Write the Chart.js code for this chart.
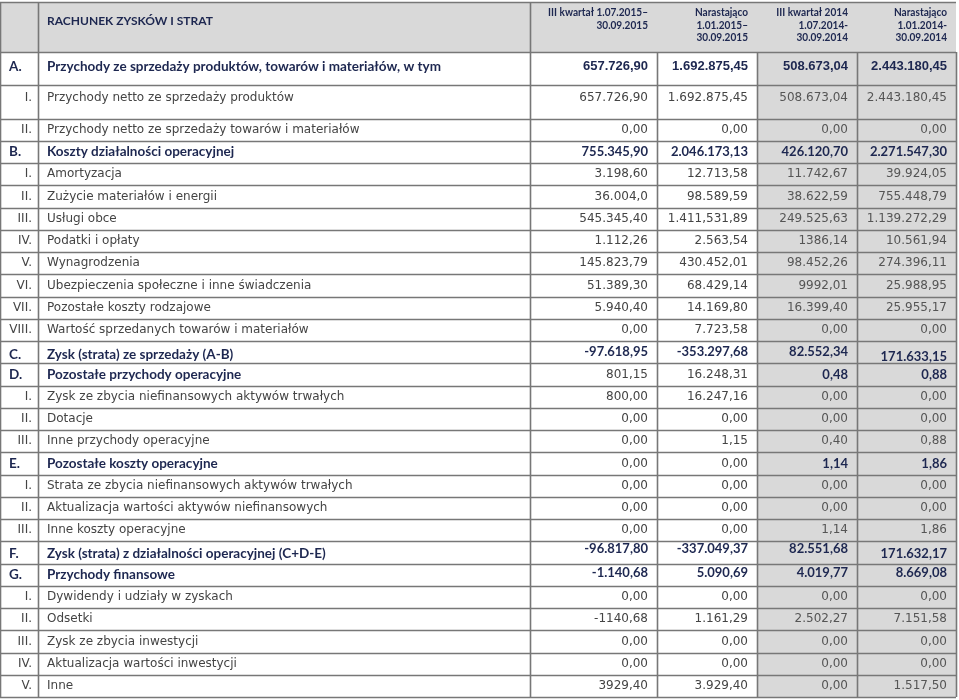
<!DOCTYPE html>
<html>
<head>
<meta charset="utf-8">
<script src="https://cdn.jsdelivr.net/npm/chart.js@4.4.1/dist/chart.umd.min.js"></script>
<style>
    html, body { margin: 0; padding: 0; background: #fff; }
    #wrap { width: 959px; height: 700px; }
</style>
</head>
<body>
<div id="wrap"><canvas id="pl-chart" width="959" height="700"></canvas></div>
<script>
const tableTitle = 'RACHUNEK ZYSKÓW I STRAT';

const columnHeaders = [
    ['III kwartał 1.07.2015–', '30.09.2015'],
    ['Narastająco', '1.01.2015–', '30.09.2015'],
    ['III kwartał 2014', '1.07.2014-', '30.09.2014'],
    ['Narastająco', '1.01.2014-', '30.09.2014']
];

const rowCodes = [
    'A.', 'I.', 'II.', 'B.', 'I.', 'II.', 'III.', 'IV.', 'V.', 'VI.', 'VII.', 'VIII.',
    'C.', 'D.', 'I.', 'II.', 'III.', 'E.', 'I.', 'II.', 'III.',
    'F.', 'G.', 'I.', 'II.', 'III.', 'IV.', 'V.'
];

const rowLabels = [
    'Przychody ze sprzedaży produktów, towarów i materiałów, w tym',
    'Przychody netto ze sprzedaży produktów',
    'Przychody netto ze sprzedaży towarów i materiałów',
    'Koszty działalności operacyjnej',
    'Amortyzacja',
    'Zużycie materiałów i energii',
    'Usługi obce',
    'Podatki i opłaty',
    'Wynagrodzenia',
    'Ubezpieczenia społeczne i inne świadczenia',
    'Pozostałe koszty rodzajowe',
    'Wartość sprzedanych towarów i materiałów',
    'Zysk (strata) ze sprzedaży (A-B)',
    'Pozostałe przychody operacyjne',
    'Zysk ze zbycia niefinansowych aktywów trwałych',
    'Dotacje',
    'Inne przychody operacyjne',
    'Pozostałe koszty operacyjne',
    'Strata ze zbycia niefinansowych aktywów trwałych',
    'Aktualizacja wartości aktywów niefinansowych',
    'Inne koszty operacyjne',
    'Zysk (strata) z działalności operacyjnej (C+D-E)',
    'Przychody finansowe',
    'Dywidendy i udziały w zyskach',
    'Odsetki',
    'Zysk ze zbycia inwestycji',
    'Aktualizacja wartości inwestycji',
    'Inne'
];

const q3_2015 = [
    '657.726,90', '657.726,90', '0,00', '755.345,90', '3.198,60', '36.004,0', '545.345,40',
    '1.112,26', '145.823,79', '51.389,30', '5.940,40', '0,00', '-97.618,95', '801,15',
    '800,00', '0,00', '0,00', '0,00', '0,00', '0,00', '0,00', '-96.817,80', '-1.140,68',
    '0,00', '-1140,68', '0,00', '0,00', '3929,40'
];
const ytd_2015 = [
    '1.692.875,45', '1.692.875,45', '0,00', '2.046.173,13', '12.713,58', '98.589,59', '1.411,531,89',
    '2.563,54', '430.452,01', '68.429,14', '14.169,80', '7.723,58', '-353.297,68', '16.248,31',
    '16.247,16', '0,00', '1,15', '0,00', '0,00', '0,00', '0,00', '-337.049,37', '5.090,69',
    '0,00', '1.161,29', '0,00', '0,00', '3.929,40'
];
const q3_2014 = [
    '508.673,04', '508.673,04', '0,00', '426.120,70', '11.742,67', '38.622,59', '249.525,63',
    '1386,14', '98.452,26', '9992,01', '16.399,40', '0,00', '82.552,34', '0,48',
    '0,00', '0,00', '0,40', '1,14', '0,00', '0,00', '1,14', '82.551,68', '4.019,77',
    '0,00', '2.502,27', '0,00', '0,00', '0,00'
];
const ytd_2014 = [
    '2.443.180,45', '2.443.180,45', '0,00', '2.271.547,30', '39.924,05', '755.448,79', '1.139.272,29',
    '10.561,94', '274.396,11', '25.988,95', '25.955,17', '0,00', '171.633,15', '0,88',
    '0,00', '0,00', '0,88', '1,86', '0,00', '0,00', '1,86', '171.632,17', '8.669,08',
    '0,00', '7.151,58', '0,00', '0,00', '1.517,50'
];

const valueColumns = [q3_2015, ytd_2015, q3_2014, ytd_2014];

// --- layout (not data) ---
const colEdges = [0, 38, 530, 657, 757, 857, 956];   // x scale units
const headerUnits = 2.25;                             // y scale units
const tallRows = [0, 1];                              // rows A and I are taller
const rowUnits = rowCodes.map((_, i) => tallRows.includes(i) ? 1.5 : 1);
const rowTops = [];
rowUnits.reduce((acc, u) => { rowTops.push(acc); return acc + u; }, headerUnits);
const totalUnits = headerUnits + rowUnits.reduce((a, b) => a + b, 0);
// pozycja tekstu w wierszu (w jednostkach osi y od górnej krawędzi)
const textOffset = rowCodes.map((_, i) => i === 0 ? 0.66 : (i === 1 ? 0.55 : 0.5));
// drobne przesunięcia jak w oryginale: wiersz C i F
const cellShift = {
    12: { label: 0.12, values: [0, 0, 0, 0.2] },
    21: { label: 0.05, values: [-0.15, -0.15, -0.15, 0.05] },
    22: { label: 0.0, values: [-0.1, -0.1, -0.1, -0.1] }
};

const NAVY = '#1d2750';
const TEXT = '#444444';
const TEXT_GRAY = '#555555';
const FILL = '#d9d9d9';
const LINE = '#777777';

const FONT_NORMAL = '12px "DejaVu Sans"';
const FONT_BOLD = 'bold 13.5px Lato';

const isSection = code => /^[A-G]\.$/.test(code);
// w wierszach D i E tylko kolumny 2014 są pogrubione
const plainCells = { 13: [0, 1], 17: [0, 1] };

const tablePlugin = {
    id: 'tableCells',
    beforeDatasetsDraw(chart) {
        const { ctx, scales: { x, y } } = chart;
        const px = v => x.getPixelForValue(v);
        const py = v => y.getPixelForValue(v);
        ctx.save();
        ctx.fillStyle = FILL;
        // header band
        ctx.fillRect(px(0), py(0), px(colEdges[6]) - px(0), py(headerUnits) - py(0));
        // 2014 columns
        ctx.fillRect(px(colEdges[4]), py(headerUnits), px(colEdges[6]) - px(colEdges[4]), py(totalUnits) - py(headerUnits));

        ctx.strokeStyle = LINE;
        ctx.lineWidth = 1.6;
        ctx.beginPath();
        // horizontal borders
        [0, ...rowTops, totalUnits].forEach(u => {
            const yy = Math.round(py(u)) + 0.5;
            ctx.moveTo(px(0), yy);
            ctx.lineTo(px(colEdges[6]), yy);
        });
        // vertical borders
        colEdges.forEach((e, i) => {
            const top = i < 3 ? 0 : headerUnits;
            const xx = Math.round(px(e)) + 0.5;
            ctx.moveTo(xx, py(top));
            ctx.lineTo(xx, py(totalUnits));
        });
        ctx.stroke();
        ctx.restore();
    },
    afterDatasetsDraw(chart) {
        const { ctx, scales: { x, y } } = chart;
        const px = v => x.getPixelForValue(v);
        const py = v => y.getPixelForValue(v);
        ctx.save();
        ctx.textBaseline = 'middle';

        // title
        ctx.fillStyle = NAVY;
        ctx.font = 'bold 12px Lato';
        ctx.textAlign = 'left';
        ctx.fillText(tableTitle, px(colEdges[1]) + 9, py(0.85));

        // column headers (zwężona czcionka)
        ctx.font = 'bold 12px Lato';
        ctx.textAlign = 'right';
        columnHeaders.forEach((lines, c) => {
            lines.forEach((t, k) => {
                ctx.save();
                ctx.translate(px(colEdges[c + 3]) - 9, py(0) + 10.5 + k * 12.5);
                ctx.scale(0.84, 1);
                ctx.fillText(t, 0, 0);
                ctx.restore();
            });
        });

        // row codes and labels
        rowCodes.forEach((code, r) => {
            const shift = cellShift[r] ? cellShift[r].label : 0;
            const yy = py(rowTops[r] + textOffset[r] + shift);
            if (isSection(code)) {
                ctx.fillStyle = NAVY;
                ctx.font = FONT_BOLD;
                ctx.textAlign = 'left';
                ctx.fillText(code, px(0) + 9, yy);
                ctx.fillText(rowLabels[r], px(colEdges[1]) + 9, yy);
            } else {
                ctx.fillStyle = TEXT;
                ctx.font = FONT_NORMAL;
                ctx.textAlign = 'right';
                ctx.fillText(code, px(colEdges[1]) - 6, yy);
                ctx.textAlign = 'left';
                ctx.fillText(rowLabels[r], px(colEdges[1]) + 9, yy);
            }
        });

        // values, placed at the dataset points
        ctx.textAlign = 'right';
        chart.data.datasets.forEach((ds, c) => {
            const meta = chart.getDatasetMeta(c);
            meta.data.forEach((pt, r) => {
                const bold = isSection(rowCodes[r]) && !(plainCells[r] || []).includes(c);
                if (bold) {
                    ctx.fillStyle = NAVY;
                    ctx.font = r === 0 ? 'bold 13px "Liberation Sans"' : 'bold 13px Lato';
                } else {
                    ctx.fillStyle = c < 2 ? TEXT : TEXT_GRAY;
                    ctx.font = FONT_NORMAL;
                }
                ctx.fillText(ds.labelsText[r], pt.x - 9, pt.y);
            });
        });
        ctx.restore();
    }
};

const datasets = valueColumns.map((vals, c) => ({
    label: columnHeaders[c].join(' '),
    labelsText: vals,
    data: vals.map((_, r) => ({
        x: colEdges[c + 3],
        y: rowTops[r] + textOffset[r] + (cellShift[r] ? cellShift[r].values[c] : 0)
    })),
    pointRadius: 0,
    showLine: false
}));

new Chart(document.getElementById('pl-chart'), {
    type: 'scatter',
    data: { datasets },
    options: {
        responsive: false,
        animation: false,
        devicePixelRatio: 1,
        layout: { padding: { left: 0, right: 3, top: 2, bottom: 3 } },
        plugins: {
            legend: { display: false },
            tooltip: { enabled: false }
        },
        scales: {
            x: { type: 'linear', min: 0, max: colEdges[6], display: false },
            y: { type: 'linear', min: 0, max: totalUnits, reverse: true, display: false }
        }
    },
    plugins: [tablePlugin]
});
</script>
</body>
</html>
